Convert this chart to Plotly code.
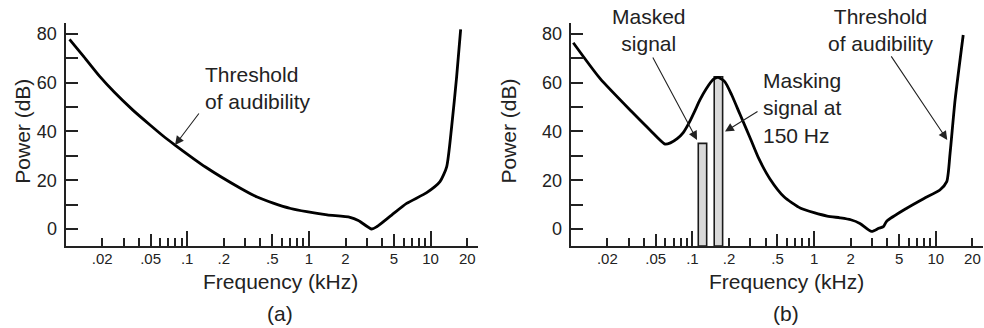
import plotly.graph_objects as go

# ---------------- data ----------------
# Panel (a): threshold of audibility (frequency in kHz, power in dB)
freq_a = [0.01079, 0.01413, 0.01919, 0.02512, 0.03597, 0.0501, 0.0631, 0.0794, 0.1413,
          0.2716, 0.3715, 0.5093, 0.708, 0.959, 1.413, 2.178, 2.547, 3.281, 3.606, 4.786,
          6.353, 9.29, 11.94, 13.55, 14.89, 16.37, 17.66]
db_a = [77.7, 70.6, 62.4, 56.1, 48.6, 42.4, 38.2, 34.4, 25.4,
        16.8, 13.2, 10.6, 8.4, 7.1, 5.8, 4.8, 3.5, 0.0, 0.9, 5.7,
        10.5, 14.9, 19.4, 25.5, 41.9, 62.4, 81.8]

# Panel (b): threshold raised by a 150 Hz masking signal
freq_b = [0.0105, 0.0174, 0.0327, 0.045, 0.0596, 0.066, 0.075, 0.0841, 0.095, 0.105,
          0.115, 0.13, 0.1485, 0.163, 0.185, 0.21, 0.246, 0.297, 0.35, 0.434, 0.566,
          0.776, 1.28, 1.63, 2.0, 2.38, 2.97, 3.4, 3.71, 3.95, 5.77, 8.0, 10.8, 12.3,
          13.1, 14.4, 16.8]
db_b = [76.3, 61.7, 47.4, 40.5, 34.8, 35.3, 37.0, 39.5, 44.0, 48.5,
        52.8, 57.5, 61.3, 62.1, 60.3, 55.0, 47.0, 37.5, 29.0, 20.5, 13.2,
        8.5, 5.3, 4.6, 3.8, 2.3, -1.0, 0.3, 1.0, 3.2, 8.5, 12.5, 16.0, 19.4,
        31.0, 52.8, 79.5]

# signals (bars) in panel (b)
signal_names = ["Masked signal", "Masking signal at 150 Hz"]
signal_freq = [0.121, 0.1636]
signal_db = [35.1, 62.4]

# axis ticks
x_label_vals = [0.02, 0.05, 0.1, 0.2, 0.5, 1, 2, 5, 10, 20]
x_label_text = [".02", ".05", ".1", ".2", ".5", "1", "2", "5", "10", "20"]
x_minor_vals = [0.03, 0.04, 0.06, 0.07, 0.08, 0.09, 0.3, 0.4, 0.6, 0.7, 0.8, 0.9,
                3, 4, 6, 7, 8, 9]
x_mid_vals = [0.05, 0.5, 5]
x_decade_vals = [0.1, 1, 10]
y_tick_vals = [0, 10, 20, 30, 40, 50, 60, 70, 80]
y_tick_text = ["0", "", "20", "", "40", "", "60", "", "80"]

# ---------------- layout helpers ----------------
W, H = 984, 328
FONT = "Liberation Sans, Arial, Helvetica, sans-serif"
TXT = "#222222"
XRANGE = [-2.0, 1.3895]
YRANGE = [-6.96, 84.4]
BAR_HALF_DEC = 0.0345


def px(x):
    return x / W


def py(y):
    return 1 - y / H


fig = go.Figure()

# bars (drawn first so the curve sits on top)
for f, d in zip(signal_freq, signal_db):
    lo = f * 10 ** (-BAR_HALF_DEC)
    hi = f * 10 ** BAR_HALF_DEC
    fig.add_trace(go.Scatter(
        x=[lo, lo, hi, hi, lo], y=[YRANGE[0], d, d, YRANGE[0], YRANGE[0]],
        mode="lines", fill="toself", fillcolor="#d9d9d9",
        line=dict(color="#1a1a1a", width=1.6), xaxis="x2", yaxis="y2",
        showlegend=False, hoverinfo="skip"))

fig.add_trace(go.Scatter(x=freq_a, y=db_a, mode="lines",
                         line=dict(color="black", width=2.8, shape="spline", smoothing=0.6),
                         xaxis="x", yaxis="y", showlegend=False))
fig.add_trace(go.Scatter(x=freq_b, y=db_b, mode="lines",
                         line=dict(color="black", width=2.8, shape="spline", smoothing=0.6),
                         xaxis="x2", yaxis="y2", showlegend=False))
# dummy traces so the overlay tick axes are drawn
fig.add_trace(go.Scatter(x=[1], y=[None], xaxis="x3", yaxis="y", showlegend=False))
fig.add_trace(go.Scatter(x=[1], y=[None], xaxis="x4", yaxis="y2", showlegend=False))

dom_a = [px(65.5), px(478.0)]
dom_b = [px(570.7), px(570.7 + 412.5)]
ydom = [py(246), py(23)]


def main_x(domain, anchor):
    return dict(type="log", range=XRANGE, domain=domain, anchor=anchor,
                showline=True, linewidth=2, linecolor=TXT, showgrid=False, zeroline=False,
                ticks="inside", tickmode="array", tickvals=x_label_vals + x_minor_vals,
                ticktext=x_label_text + [""] * len(x_minor_vals),
                ticklen=8, tickwidth=1.5, tickcolor=TXT,
                tickfont=dict(family=FONT, size=15, color=TXT), ticklabelstandoff=-2)


def over_x(over, domain, anchor):
    return dict(type="log", range=XRANGE, domain=domain, anchor=anchor, overlaying=over,
                showline=False, showgrid=False, zeroline=False, showticklabels=False,
                ticks="inside", tickmode="array", tickvals=x_mid_vals,
                ticklen=12, tickwidth=1.5, tickcolor=TXT,
                minor=dict(tickmode="array", tickvals=x_decade_vals, ticks="inside",
                           ticklen=15, tickwidth=1.5, tickcolor=TXT))


def main_y(anchor):
    return dict(range=YRANGE, domain=ydom, anchor=anchor,
                showline=True, linewidth=2, linecolor=TXT, showgrid=False, zeroline=False,
                ticks="inside", tickmode="array", tickvals=y_tick_vals, ticktext=y_tick_text,
                ticklen=12, tickwidth=1.5, tickcolor=TXT,
                tickfont=dict(family=FONT, size=18, color=TXT), ticklabelstandoff=3)


fig.update_layout(
    width=W, height=H, margin=dict(l=0, r=0, t=0, b=0),
    paper_bgcolor="white", plot_bgcolor="white",
    font=dict(family=FONT, color=TXT),
    xaxis=main_x(dom_a, "y"), yaxis=main_y("x"),
    xaxis2=main_x(dom_b, "y2"), yaxis2=main_y("x2"),
    xaxis3=over_x("x", dom_a, "y"), xaxis4=over_x("x2", dom_b, "y2"),
)

ann = []
tf = dict(family=FONT, size=21, color=TXT)
# axis titles and panel labels
for cx, lab in [(280, "(a)"), (786, "(b)")]:
    ann.append(dict(x=px(cx), y=py(281), xref="paper", yref="paper", text="Frequency (kHz)",
                    showarrow=False, font=tf, xanchor="center", yanchor="middle"))
    ann.append(dict(x=px(cx), y=py(313), xref="paper", yref="paper", text=lab,
                    showarrow=False, font=tf, xanchor="center", yanchor="middle"))
for cx in [21.7, 507.5]:
    ann.append(dict(x=px(cx), y=py(131), xref="paper", yref="paper", text="Power (dB)",
                    textangle=-90, showarrow=False, font=tf, xanchor="center", yanchor="middle"))

# text labels (data coordinates; log axes take log10 values)
ann.append(dict(x=-0.870, y=57.8, xref="x", yref="y", text="Threshold<br>of audibility",
                showarrow=False, font=tf, xanchor="left", yanchor="middle", align="left"))
ann.append(dict(x=-1.357, y=81.5, xref="x2", yref="y2", text="Masked<br>signal",
                showarrow=False, font=tf, xanchor="center", yanchor="middle", align="center"))
ann.append(dict(x=-0.434, y=49.6, xref="x2", yref="y2", text="Masking<br>signal at<br>150 Hz",
                showarrow=False, font=tf, xanchor="left", yanchor="middle", align="left"))
ann.append(dict(x=0.547, y=81.5, xref="x2", yref="y2", text="Threshold<br>of audibility",
                showarrow=False, font=tf, xanchor="center", yanchor="middle", align="center"))

# arrows
arrow = dict(showarrow=True, text="", arrowhead=2, arrowsize=1.6, arrowwidth=1.1,
             arrowcolor=TXT, standoff=0, startstandoff=0)
for xr, yr, x, y, ax, ay in [("x", "y", -1.10, 34.4, 25, -33),
                             ("x2", "y2", -0.962, 36.5, -45, -84),
                             ("x2", "y2", -0.732, 39.9, 34, -21),
                             ("x2", "y2", 1.094, 36.5, -57, -85)]:
    ann.append(dict(x=x, y=y, xref=xr, yref=yr, ax=ax, ay=ay, **arrow))

fig.update_layout(annotations=ann)
fig.write_html("out.html", config={"displayModeBar": False},
               post_script="document.body.style.margin='0px';")
